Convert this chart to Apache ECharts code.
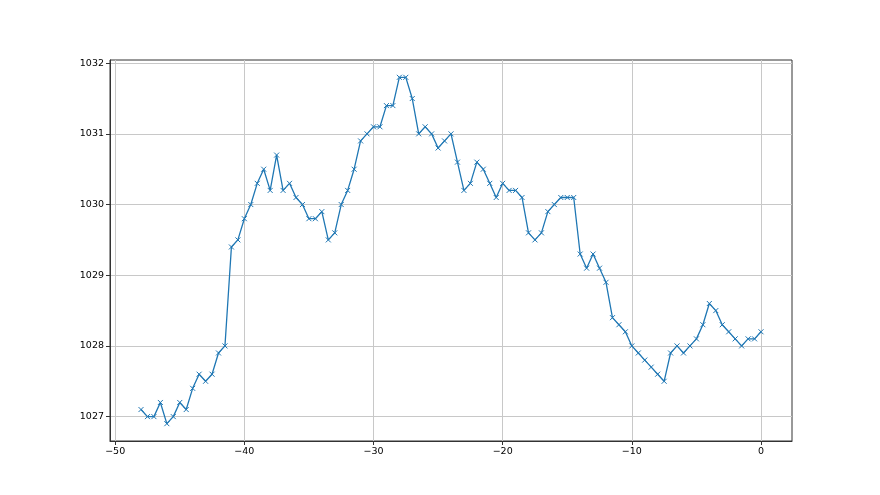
<!DOCTYPE html>
<html>
<head>
<meta charset="utf-8">
<script src="https://cdn.jsdelivr.net/npm/echarts@6/dist/echarts.min.js"></script>
<style>html,body{margin:0;padding:0;background:#fff;}#c{width:880px;height:495px;}</style>
</head>
<body>
<div id="c"></div>
<script>
const xValues = [-48,-47.5,-47,-46.5,-46,-45.5,-45,-44.5,-44,-43.5,-43,-42.5,-42,-41.5,-41,-40.5,-40,-39.5,-39,-38.5,-38,-37.5,-37,-36.5,-36,-35.5,-35,-34.5,-34,-33.5,-33,-32.5,-32,-31.5,-31,-30.5,-30,-29.5,-29,-28.5,-28,-27.5,-27,-26.5,-26,-25.5,-25,-24.5,-24,-23.5,-23,-22.5,-22,-21.5,-21,-20.5,-20,-19.5,-19,-18.5,-18,-17.5,-17,-16.5,-16,-15.5,-15,-14.5,-14,-13.5,-13,-12.5,-12,-11.5,-11,-10.5,-10,-9.5,-9,-8.5,-8,-7.5,-7,-6.5,-6,-5.5,-5,-4.5,-4,-3.5,-3,-2.5,-2,-1.5,-1,-0.5,0];
const yValues = [1027.1,1027.0,1027.0,1027.2,1026.9,1027.0,1027.2,1027.1,1027.4,1027.6,1027.5,1027.6,1027.9,1028.0,1029.4,1029.5,1029.8,1030.0,1030.3,1030.5,1030.2,1030.7,1030.2,1030.3,1030.1,1030.0,1029.8,1029.8,1029.9,1029.5,1029.6,1030.0,1030.2,1030.5,1030.9,1031.0,1031.1,1031.1,1031.4,1031.4,1031.8,1031.8,1031.5,1031.0,1031.1,1031.0,1030.8,1030.9,1031.0,1030.6,1030.2,1030.3,1030.6,1030.5,1030.3,1030.1,1030.3,1030.2,1030.2,1030.1,1029.6,1029.5,1029.6,1029.9,1030.0,1030.1,1030.1,1030.1,1029.3,1029.1,1029.3,1029.1,1028.9,1028.4,1028.3,1028.2,1028.0,1027.9,1027.8,1027.7,1027.6,1027.5,1027.9,1028.0,1027.9,1028.0,1028.1,1028.3,1028.6,1028.5,1028.3,1028.2,1028.1,1028.0,1028.1,1028.1,1028.2];
const xTicks = [-50,-40,-30,-20,-10,0];
const yTicks = [1027,1028,1029,1030,1031,1032];

const xMin = -50.4, xMax = 2.4;
const yMin = 1026.655, yMax = 1032.045;

const chart = echarts.init(document.getElementById('c'), null, {renderer: 'canvas'});
const fmt = v => String(v).replace('-', '\u2212');
const axisLine = {show: true, onZero: false, lineStyle: {color: '#333', width: 1}};
const splitLine = {show: true, lineStyle: {color: '#c8c8c8', width: 1}};
chart.setOption({
  animation: false,
  backgroundColor: '#fff',
  grid: {left: 110, right: 88, top: 60, bottom: 54, show: true, borderColor: '#333', borderWidth: 1, backgroundColor: 'transparent'},
  xAxis: {
    type: 'value', min: xMin, max: xMax,
    axisLine: axisLine, splitLine: splitLine,
    axisLabel: {color: '#000', fontSize: 9.5, fontFamily: 'DejaVu Sans', margin: 6,
      customValues: xTicks, formatter: fmt},
    axisTick: {show: true, inside: false, length: 4, customValues: xTicks, lineStyle: {color: '#333', width: 1}},
  },
  yAxis: {
    type: 'value', min: yMin, max: yMax,
    axisLine: axisLine, splitLine: splitLine,
    axisLabel: {color: '#000', fontSize: 9.5, fontFamily: 'DejaVu Sans', margin: 6,
      customValues: yTicks, formatter: fmt},
    axisTick: {show: true, inside: false, length: 4, customValues: yTicks, lineStyle: {color: '#333', width: 1}},
  },
  series: [{
    type: 'line',
    data: xValues.map((x, i) => [x, yValues[i]]),
    showSymbol: true,
    symbol: 'path://M0,0L10,10M10,0L0,10',
    symbolSize: 5,
    lineStyle: {color: '#1f77b4', width: 1.3},
    itemStyle: {color: 'rgba(0,0,0,0)', borderColor: '#1f77b4', borderWidth: 1},
    z: 3
  }]
});
</script>
</body>
</html>
